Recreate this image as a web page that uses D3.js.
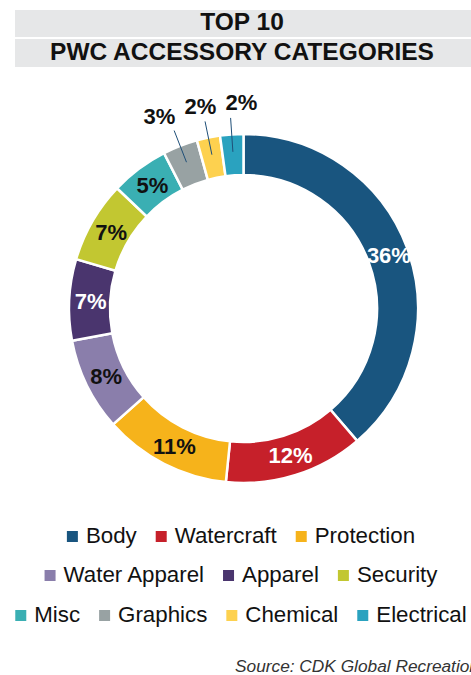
<!DOCTYPE html>
<html>
<head>
<meta charset="utf-8">
<script src="https://cdn.jsdelivr.net/npm/d3@7"></script>
<style>
  html, body { margin: 0; padding: 0; background: #fff; }
  svg { display: block; }
</style>
</head>
<body>
<svg id="chart" width="471" height="675"></svg>
<script>
// Top 10 PWC accessory categories, share of sales (%)
const categories = ["Body", "Watercraft", "Protection", "Water Apparel", "Apparel",
                    "Security", "Misc", "Graphics", "Chemical", "Electrical"];
const shares = [36, 12, 11, 8, 7, 7, 5, 3, 2, 2];
const colors = ["#19557f", "#c6202a", "#f6b31b", "#8a7eab", "#4a356e",
                "#c2c731", "#3aafb3", "#98a2a3", "#fdd14f", "#2aa2bf"];
const lightText = ["Body", "Watercraft", "Apparel"];
const titleLines = ["TOP 10", "PWC ACCESSORY CATEGORIES"];
const sourceText = "Source: CDK Global Recreation";

const W = 471, H = 675;
const svg = d3.select("#chart");
const font = "'Liberation Sans', Arial, Helvetica, sans-serif";

// Title bands
const titleBands = [{ y: 10, h: 27 }, { y: 39, h: 28 }];
titleLines.forEach((t, i) => {
  svg.append("rect")
    .attr("x", 15).attr("y", titleBands[i].y)
    .attr("width", W - 15).attr("height", titleBands[i].h)
    .attr("fill", "#e6e7e8");
  svg.append("text")
    .attr("x", 242).attr("y", titleBands[i].y + titleBands[i].h - 7.5)
    .attr("text-anchor", "middle")
    .attr("font-family", font).attr("font-weight", "bold")
    .attr("font-size", 24.5).attr("fill", "#111")
    .text(t);
});

// Donut
const cx = 243.5, cy = 308.5, rOuter = 174.5, rInner = 133.5;
const g = svg.append("g").attr("transform", `translate(${cx},${cy})`);
const data = categories.map((c, i) => ({ cat: c, value: shares[i], color: colors[i] }));
const pie = d3.pie().sort(null).value(d => d.value);
const arcs = pie(data);
const arc = d3.arc().innerRadius(rInner).outerRadius(rOuter);

g.selectAll("path.slice").data(arcs).join("path")
  .attr("class", "slice")
  .attr("d", arc)
  .attr("fill", d => d.data.color)
  .attr("stroke", "#fff").attr("stroke-width", 2.5);

const mid = d => (d.startAngle + d.endAngle) / 2;
const polar = (a, r) => [Math.sin(a) * r, -Math.cos(a) * r];

// Labels inside the ring for the larger slices
const inside = arcs.filter(d => d.data.value >= 5);
const outside = arcs.filter(d => d.data.value < 5);

g.selectAll("text.inLabel").data(inside).join("text")
  .attr("class", "inLabel")
  .attr("x", d => arc.centroid(d)[0] + 1)
  .attr("y", d => arc.centroid(d)[1] + 8)
  .attr("text-anchor", "middle")
  .attr("font-family", font).attr("font-weight", "bold").attr("font-size", 22)
  .attr("fill", d => lightText.includes(d.data.cat) ? "#fff" : "#111")
  .text(d => d.data.value + "%");

// Small slices: leader lines and labels outside the ring
g.selectAll("line.leader").data(outside).join("line")
  .attr("class", "leader")
  .attr("x1", d => polar(mid(d), 157)[0]).attr("y1", d => polar(mid(d), 157)[1])
  .attr("x2", d => polar(mid(d), 191)[0]).attr("y2", d => polar(mid(d), 191)[1])
  .attr("stroke", "#1f4f78").attr("stroke-width", 1);

// spread outside labels so they don't overlap
const outPos = outside.map(d => {
  const p = polar(mid(d), 205);
  return { d, x: p[0], y: p[1] };
}).sort((a, b) => a.x - b.x);
const minGap = 41;
let overlap = false;
for (let i = 1; i < outPos.length; i++) if (outPos[i].x - outPos[i - 1].x < minGap) overlap = true;
if (overlap) {
  const meanX = d3.mean(outPos, p => p.x);
  const n = outPos.length;
  outPos.forEach((p, i) => { p.x = meanX + (i - (n - 1) / 2) * minGap; });
}
g.selectAll("text.outLabel").data(outPos).join("text")
  .attr("class", "outLabel")
  .attr("x", p => p.x).attr("y", p => p.y + 6)
  .attr("text-anchor", "middle")
  .attr("font-family", font).attr("font-weight", "bold").attr("font-size", 22)
  .attr("fill", "#111")
  .text(p => p.d.data.value + "%");

// Legend: three centred rows
const legendRows = [[0, 1, 2], [3, 4, 5], [6, 7, 8, 9]];
const rowBaselines = [543, 582, 622];
const sw = 11, swGap = 8, itemGap = 19, legendCenter = 241;
legendRows.forEach((row, ri) => {
  const rg = svg.append("g");
  let x = 0;
  row.forEach(idx => {
    rg.append("rect")
      .attr("x", x).attr("y", rowBaselines[ri] - 12)
      .attr("width", sw).attr("height", sw)
      .attr("fill", colors[idx]);
    const t = rg.append("text")
      .attr("x", x + sw + swGap).attr("y", rowBaselines[ri])
      .attr("font-family", font).attr("font-size", 22.3).attr("fill", "#111")
      .text(categories[idx]);
    x += sw + swGap + t.node().getComputedTextLength() + itemGap;
  });
  const total = x - itemGap;
  rg.attr("transform", `translate(${legendCenter - total / 2},0)`);
});

// Source note
svg.append("text")
  .attr("x", 235).attr("y", 672)
  .attr("font-family", font).attr("font-style", "italic")
  .attr("font-size", 17.3).attr("fill", "#333")
  .text(sourceText);
</script>
</body>
</html>
